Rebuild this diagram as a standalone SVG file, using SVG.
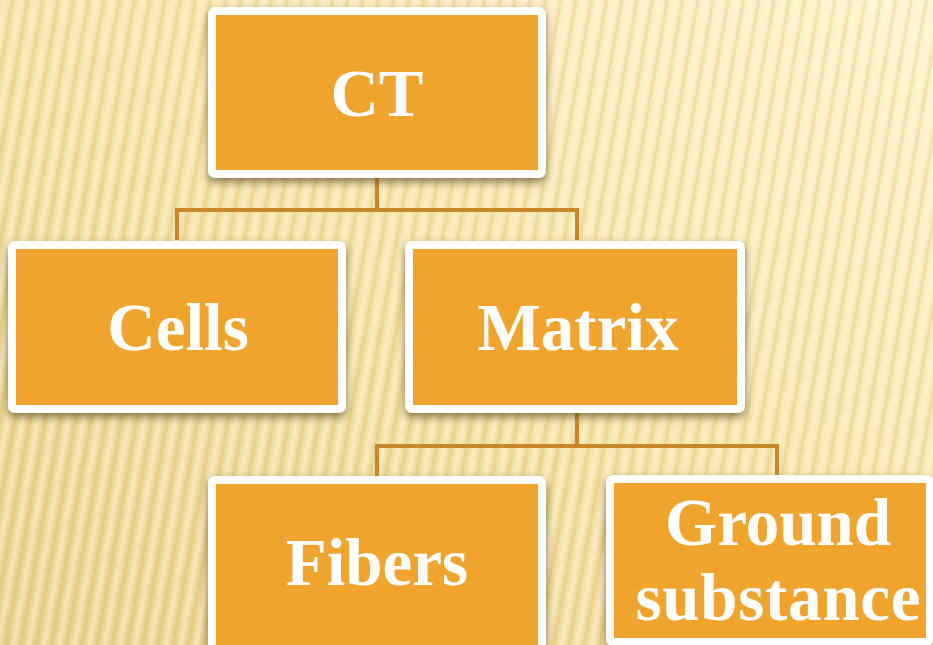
<svg xmlns="http://www.w3.org/2000/svg" width="933" height="645" viewBox="0 0 933 645">
<defs>
<linearGradient id="bg" x1="0" y1="1" x2="1" y2="0">
<stop offset="0" stop-color="#E8D08A"/>
<stop offset="0.5" stop-color="#F5E2A6"/>
<stop offset="1" stop-color="#FEF4CF"/>
</linearGradient>
<linearGradient id="band" x1="0" y1="0" x2="1" y2="0">
<stop offset="0" stop-color="#FFF8DC" stop-opacity="0"/>
<stop offset="0.35" stop-color="#FFF8DC" stop-opacity="0.55"/>
<stop offset="0.6" stop-color="#FFF8DC" stop-opacity="0.1"/>
<stop offset="0.8" stop-color="#CFAE5C" stop-opacity="0.3"/>
<stop offset="1" stop-color="#CFAE5C" stop-opacity="0"/>
</linearGradient>
<pattern id="stripes" width="15" height="40" patternUnits="userSpaceOnUse" patternTransform="rotate(10)">
<rect width="15" height="40" fill="url(#band)"/>
</pattern>
<filter id="sh" x="-10%" y="-10%" width="120%" height="130%">
<feDropShadow dx="0" dy="4" stdDeviation="4" flood-color="#5A4420" flood-opacity="0.7"/>
</filter>
<style>
.box{fill:#EFA42F;stroke:#FFFFFF;stroke-width:8;}
.lbl{font-family:"Liberation Serif","Times New Roman",serif;font-weight:bold;font-size:67px;fill:#FFFFFF;text-anchor:middle;}
.con{fill:none;stroke:#C9872A;stroke-width:4;stroke-linejoin:miter;}
</style>
</defs>
<rect width="933" height="645" fill="url(#bg)"/>
<rect width="933" height="645" fill="url(#stripes)"/>
<g id="connectors">
<path class="con" d="M377 178 V210 M177 240 V210 H577 V240"/>
<path class="con" d="M577 412 V446 M377 476 V446 H777 V476"/>
</g>
<g id="node-ct">
<rect class="box" x="212" y="11" width="330" height="163" rx="3" filter="url(#sh)"/>
<text class="lbl" x="377" y="116">CT</text>
</g>
<g id="node-cells">
<rect class="box" x="12" y="245" width="330" height="164" rx="3" filter="url(#sh)"/>
<text class="lbl" x="178" y="350">Cells</text>
</g>
<g id="node-matrix">
<rect class="box" x="409" y="245" width="332" height="164" rx="3" filter="url(#sh)"/>
<text class="lbl" x="578" y="350">Matrix</text>
</g>
<g id="node-fibers">
<rect class="box" x="212" y="480" width="330" height="180" rx="3" filter="url(#sh)"/>
<text class="lbl" x="377" y="585">Fibers</text>
</g>
<g id="node-ground">
<rect class="box" x="610" y="479" width="320" height="163" rx="3" filter="url(#sh)"/>
<text class="lbl" x="778" y="545">Ground</text>
<text class="lbl" x="778" y="620" textLength="285" lengthAdjust="spacing">substance</text>
</g>
</svg>
